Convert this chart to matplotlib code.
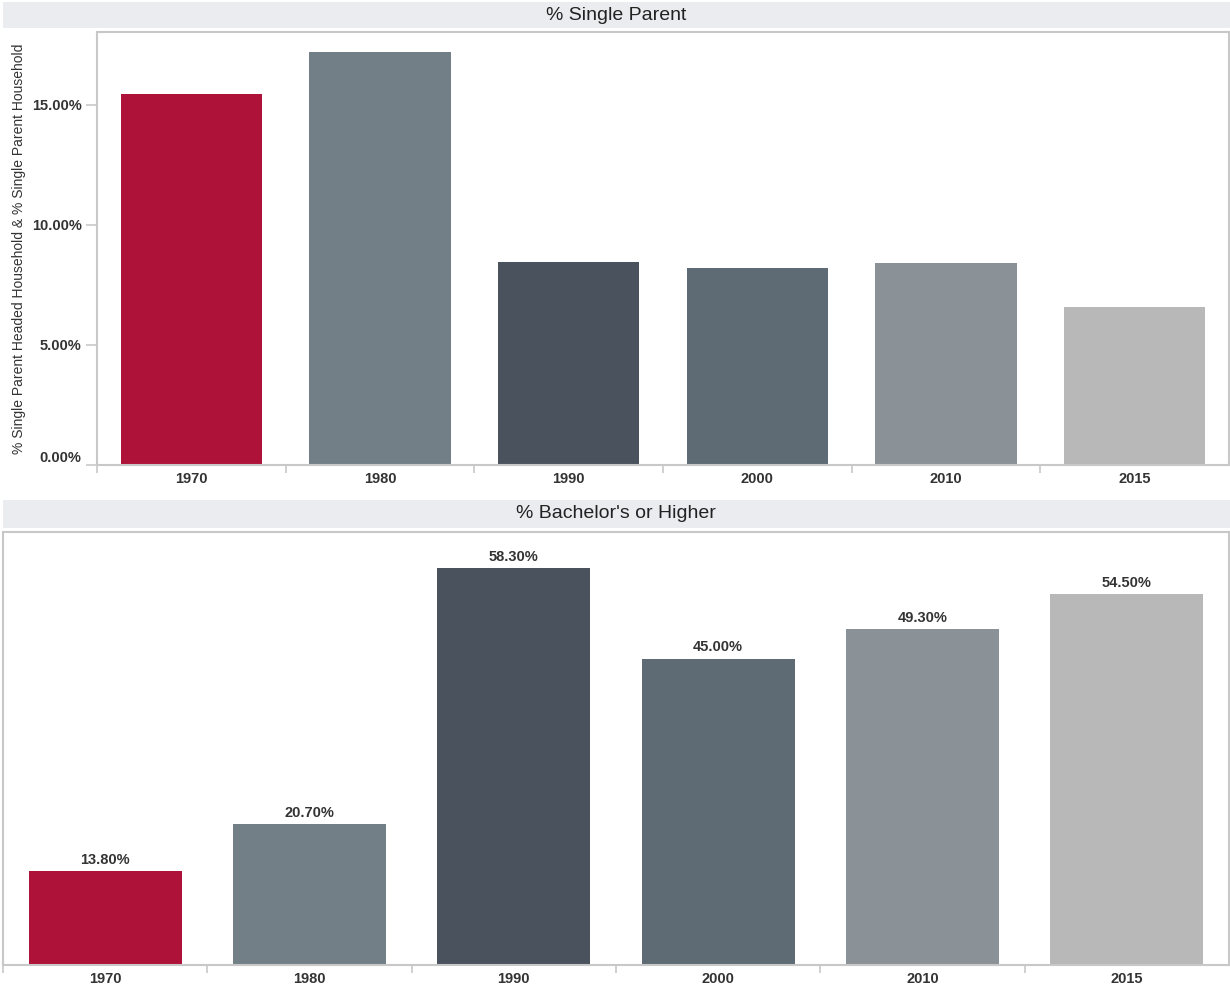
import matplotlib
matplotlib.use('Agg')
import matplotlib.pyplot as plt
from matplotlib.patches import Rectangle
from matplotlib.ticker import FixedLocator, NullFormatter
import numpy as np

plt.rcParams['font.family'] = ['Liberation Sans', 'DejaVu Sans']

years = ['1970', '1980', '1990', '2000', '2010', '2015']
single_parent = [15.46, 17.21, 8.46, 8.21, 8.42, 6.58]
bachelors = [13.8, 20.7, 58.3, 45.0, 49.3, 54.5]
colors = ['#ae1238', '#737f87', '#4a525e', '#5e6b74', '#8a9197', '#b7b8b7']
y_ticks = [0, 5, 10, 15]

W, H = 1230, 989
SPINE = '#c8c8c8'
TXT = '#333333'
FS = 10.5

fig = plt.figure(figsize=(W / 100, H / 100), dpi=100)


def px_axes(x0, y0, x1, y1):
    return fig.add_axes([x0 / W, (H - y1) / H, (x1 - x0) / W, (y1 - y0) / H])


def strip(y0, y1, text):
    fig.add_artist(Rectangle((3 / W, (H - y1) / H), (W - 3) / W, (y1 - y0) / H,
                             transform=fig.transFigure, facecolor='#ebecf0',
                             edgecolor='none'))
    fig.text(616 / W, (H - (y0 + y1) / 2) / H, text, ha='center', va='center',
             fontsize=14, color='#222222')


def style(ax, ymax):
    x = np.arange(len(years))
    ax.set_xlim(-0.5, len(years) - 0.5)
    ax.set_ylim(0, ymax)
    for s in ax.spines.values():
        s.set_color(SPINE)
        s.set_linewidth(1.5)
    ax.xaxis.set_major_locator(FixedLocator(x - 0.5))
    ax.xaxis.set_major_formatter(NullFormatter())
    ax.xaxis.set_minor_locator(FixedLocator(x))
    ax.set_xticklabels(years, minor=True, fontsize=FS, fontweight='bold', color=TXT)
    ax.tick_params(axis='x', which='major', length=6, color=SPINE, width=1.2)
    ax.tick_params(axis='x', which='minor', length=0, pad=5)
    return x


# top panel
strip(2, 28, '% Single Parent')
ax1 = px_axes(97, 32, 1229, 465)
x = style(ax1, 18.04)
ax1.bar(x, single_parent, width=0.75, color=colors)
ax1.set_yticks(y_ticks)
ax1.set_yticklabels(['%.2f%%' % v for v in y_ticks], fontsize=FS,
                    fontweight='bold', color=TXT)
ax1.tick_params(axis='y', length=8, color=SPINE, width=1.2, pad=3)
ax1.get_yticklabels()[0].set_va('bottom')
ax1.set_ylabel('% Single Parent Headed Household & % Single Parent Household',
               fontsize=10, color=TXT)
ax1.yaxis.set_label_coords(-71 / 1132, 0.5)

# bottom panel
strip(500, 528, "% Bachelor's or Higher")
ax2 = px_axes(3, 532, 1229, 965)
x = style(ax2, 63.6)
ax2.bar(x, bachelors, width=0.75, color=colors)
ax2.set_yticks([])
for xi, v in zip(x, bachelors):
    ax2.annotate('%.2f%%' % v, (xi, v), xytext=(0, 3), textcoords='offset points',
                 ha='center', va='bottom', fontsize=FS, fontweight='bold', color=TXT)

fig.savefig('out.png', dpi=100)
